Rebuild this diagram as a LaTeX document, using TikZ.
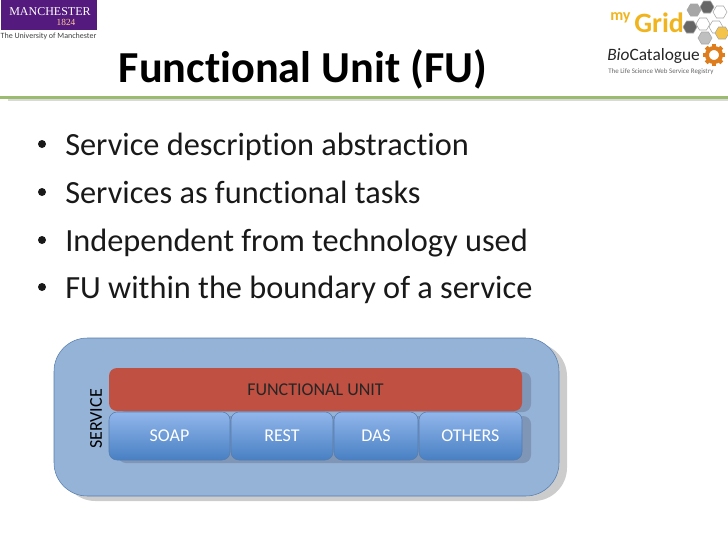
\documentclass[tikz,border=0pt]{standalone}
\usepackage{fontspec}
\setmainfont[Ligatures=NoCommon]{Carlito}
\newfontfamily\uomfont{Liberation Serif}
\usetikzlibrary{positioning}
\definecolor{svcblue}{RGB}{149,179,215}
\definecolor{svcedge}{RGB}{85,125,175}
\definecolor{backblue}{RGB}{128,150,182}
\definecolor{prototop}{RGB}{146,182,235}
\definecolor{protobot}{RGB}{72,128,195}
\definecolor{fured}{RGB}{192,80,66}
\definecolor{rule}{RGB}{155,187,110}
\definecolor{uompurple}{RGB}{84,26,125}
\definecolor{griddy}{RGB}{240,180,30}
\definecolor{gearor}{RGB}{222,125,30}
\tikzset{
	bullet/.style={anchor=base west,inner sep=0pt,font=\fontsize{24.25}{24.25}\selectfont,text=black!90},
	protobox/.style={anchor=north west,outer sep=0pt,draw=svcedge,rounded corners=6,minimum height=36pt,inner sep=0pt,top color=prototop,bottom color=protobot,text=white,font=\fontsize{13.5}{13.5}\selectfont},
	backbox/.style={fill=backblue,rounded corners=6},
}
\begin{document}
\begin{tikzpicture}[x=0.75pt,y=-0.75pt]
	\useasboundingbox (0,0) rectangle (728,546);
	% header
	\fill[black!15] (8,98) rectangle (728,101);
	\fill[rule] (0,95.5) rectangle (728,98.5);
	\node[font=\fontsize{33.2}{33.2}\selectfont\bfseries,inner sep=0pt,anchor=base] (title) at (303,82) {Functional Unit (FU)};
	% manchester logo
	\fill[uompurple] (1,0) rectangle (97,30);
	\node[text=white,font=\uomfont\fontsize{9}{9}\selectfont,inner sep=0pt] (uomname) at (50,12) {MANCHESTER};
	\node[text=orange!40,font=\uomfont\fontsize{7}{7}\selectfont,inner sep=0pt] (uomyear) at (66,22.5) {1824};
	\node[text=black!75,font=\fontsize{6}{6}\selectfont,inner sep=0pt] (uomline) at (48.5,36.5) {The University of Manchester};
	% mygrid logo
	\node[text=griddy,font=\fontsize{21}{21}\selectfont\bfseries,inner sep=0pt,anchor=base west] (grid) at (634,32) {Grid};
	\node[text=griddy,font=\fontsize{12}{12}\selectfont\bfseries,inner sep=0pt,anchor=base west] (my) at (610,20) {my};
	\foreach \x/\y/\c in {694/10/black!35,707/7/black!60,720/12/white,690/27/black!60,703/24/white,716/27/white,705/38/black!25,722/33/griddy!80}
		\filldraw[fill=\c,draw=black!35] (\x+7,\y) -- (\x+3.5,\y+6) -- (\x-3.5,\y+6) -- (\x-7,\y) -- (\x-3.5,\y-6) -- (\x+3.5,\y-6) -- cycle;
	\node[font=\fontsize{13}{13}\selectfont,inner sep=0pt,anchor=west,text=black!85] (bio) at (607,56) {\textit{Bio}Catalogue};
	\node[text=black!60,font=\fontsize{5.2}{5.2}\selectfont,inner sep=0pt,anchor=west] (bioline) at (608,71.5) {The Life Science Web Service Registry};
	\foreach \a in {0,45,...,315}
		\draw[gearor,line width=3pt] (714,55)++(\a:7) -- ++(\a:4);
	\draw[gearor,line width=3pt] (714,55) circle[radius=7];
	% bullets
	\foreach \y/\t in {155/Service description abstraction,203/Services as functional tasks,251/Independent from technology used,298/FU within the boundary of a service}{
		\node[bullet] at (65,\y) {\t};
		\fill[black!90] (42,\y-11) circle[radius=4];
	}
	% service box
	\fill[black!20,rounded corners=25] (62,343) rectangle (567,501);
	\draw[svcedge,fill=svcblue,rounded corners=25] (54,338) rectangle (559,496);
	\node[rotate=90,font=\fontsize{13.5}{13.5}\selectfont,inner sep=0pt] (service) at (96,419) {SERVICE};
	% shadows of the layers
	\fill[backbox] (118,372) rectangle (531,412);
	\fill[backbox] (118,416) rectangle (531,463);
	% layers
	\node[anchor=north west,outer sep=0pt,fill=fured,rounded corners=6,minimum width=309.75pt,minimum height=32.25pt,inner sep=0pt,text=black!85,font=\fontsize{13.5}{13.5}\selectfont] (fu) at (109,368) {FUNCTIONAL UNIT};
	\node[protobox,minimum width=90.75pt] (soap) at (109,412) {SOAP};
	\node[protobox,minimum width=76.5pt,right=0.75pt of soap] (rest) {REST};
	\node[protobox,minimum width=63pt,right=0.75pt of rest] (das) {DAS};
	\node[protobox,minimum width=77.25pt,right=0.75pt of das] (others) {OTHERS};
\end{tikzpicture}
\end{document}
